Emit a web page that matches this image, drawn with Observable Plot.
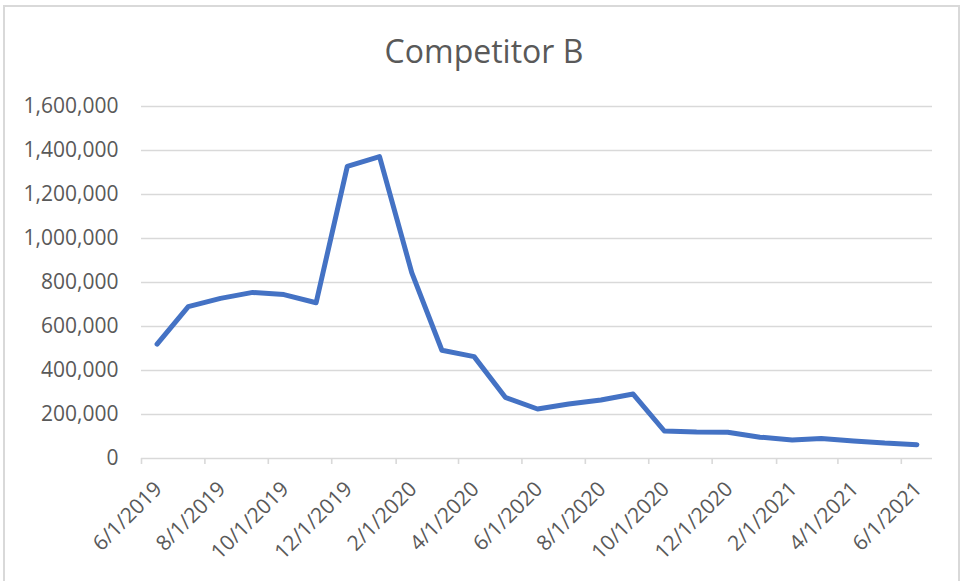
<!DOCTYPE html>
<html>
<head>
<meta charset="utf-8">
<script src="https://cdn.jsdelivr.net/npm/d3@7"></script>
<script src="https://cdn.jsdelivr.net/npm/@observablehq/plot@0.6"></script>
<style>
  html, body { margin: 0; padding: 0; background: #fff; }
  #wrap { position: relative; width: 964px; height: 581px; overflow: hidden; font-family: "Open Sans", sans-serif; }
  #border { position: absolute; left: 3px; top: 5px; width: 957px; height: 590px; border: 2px solid #d9d9d9; box-sizing: border-box; }
  #title { position: absolute; left: 0; top: 30px; width: 968px; text-align: center; font-size: 32px; line-height: 42px; color: #595959; }
  #chart { position: absolute; left: 0; top: 90px; }
</style>
</head>
<body>
<div id="wrap">
  <div id="border"></div>
  <div id="title">Competitor B</div>
  <div id="chart"></div>
</div>
<script>
const title = "Competitor B";
const months = ["2019-06","2019-07","2019-08","2019-09","2019-10","2019-11","2019-12",
  "2020-01","2020-02","2020-03","2020-04","2020-05","2020-06","2020-07","2020-08","2020-09","2020-10","2020-11","2020-12",
  "2021-01","2021-02","2021-03","2021-04","2021-05","2021-06"];
const values = [520000, 690000, 728000, 755000, 745000, 708000, 1328000,
  1372000, 845000, 492000, 463000, 278000, 225000, 248000, 266000, 293000, 125000, 120000, 119000,
  97000, 84000, 91000, 80000, 70000, 63000];
const xTickLabels = ["6/1/2019","8/1/2019","10/1/2019","12/1/2019","2/1/2020","4/1/2020","6/1/2020",
  "8/1/2020","10/1/2020","12/1/2020","2/1/2021","4/1/2021","6/1/2021"];
const yTicks = [0, 200000, 400000, 600000, 800000, 1000000, 1200000, 1400000, 1600000];
const xDomainLabels = ["6/1/2019", "7/1/2021"];

const parseTick = d3.utcParse("%m/%d/%Y");
const tickDates = xTickLabels.map(parseTick);
const labelByTime = new Map(tickDates.map((d, i) => [+d, xTickLabels[i]]));
// Excel places monthly points in the middle of each month slot
const data = months.map((m, i) => ({date: d3.utcParse("%Y-%m-%d")(m + "-16"), value: values[i]}));

const grey = "#d9d9d9";
const textColor = "#595959";

const chart = Plot.plot({
  width: 964,
  height: 491,
  marginLeft: 141,
  marginRight: 32,
  marginTop: 16,
  marginBottom: 123,
  style: {fontFamily: "'Open Sans', sans-serif", fontSize: "21px", color: textColor, background: "transparent"},
  x: {type: "utc", domain: xDomainLabels.map(parseTick)},
  y: {domain: [0, 1600000]},
  marks: [
    Plot.gridY(yTicks, {stroke: grey, strokeOpacity: 1, strokeWidth: 1.6}),
    Plot.axisY({ticks: yTicks, tickSize: 0, tickPadding: 23, tickFormat: d3.format(","), label: null, fill: textColor}),
    Plot.axisX({ticks: tickDates, tickSize: 6, tickFormat: () => "", label: null, stroke: grey, strokeWidth: 1.6, strokeOpacity: 1}),
    Plot.axisX({ticks: tickDates, tickSize: 0, tickPadding: 0, tickRotate: -45, tickFormat: d => labelByTime.get(+d),
      label: null, fill: textColor, textAnchor: "end", dx: 17, dy: 27}),
    Plot.line(data, {x: "date", y: "value", stroke: "#4472C4", strokeWidth: 5, strokeLinejoin: "round", strokeLinecap: "round"})
  ]
});
document.getElementById("chart").appendChild(chart);
</script>
</body>
</html>
